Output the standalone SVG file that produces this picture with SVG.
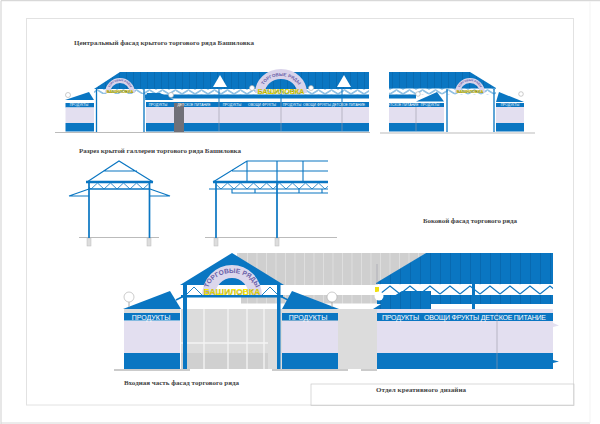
<svg xmlns="http://www.w3.org/2000/svg" width="600" height="424" viewBox="0 0 600 424">
<style>
.b{fill:#0a76c2}.l{fill:#e3dff0}.w{fill:#fff}.g{fill:#c9c9c9}.lt{fill:#dcdcdc}
.gnd{stroke:#bbb;fill:none}.div{stroke:#9a9aa8;stroke-width:.6;fill:none}
.s{stroke:#0a76c2;fill:none}
.lamp{fill:#fff;stroke:#aaa;stroke-width:.6}
.cap{font-family:"Liberation Serif",serif;font-size:7px;font-weight:bold;fill:#444}
.sm{font-family:"Liberation Sans",sans-serif;font-size:3.400px;fill:#fff;text-anchor:middle}
.big{font-family:"Liberation Sans",sans-serif;font-size:7px;fill:#fff;text-anchor:middle}
.arc{font-family:"Liberation Sans",sans-serif;font-weight:bold;fill:#6a5fa8;text-anchor:middle}
.ye{font-family:"Liberation Sans",sans-serif;font-weight:bold;fill:#ffee00;stroke:#5a5a20;stroke-width:.2;text-anchor:middle}
</style>
<defs>
<pattern id="rs" patternUnits="userSpaceOnUse" width="7" height="10"><rect width="7" height="10" fill="#0a76c2"/><path d="M.5 0V10" stroke="#0766ab" stroke-width=".7"/></pattern>
<pattern id="rb" patternUnits="userSpaceOnUse" width="10" height="10"><rect width="10" height="10" fill="#0a76c2"/><path d="M.5 0V10" stroke="#0766ab" stroke-width=".8"/></pattern>
<pattern id="gs" patternUnits="userSpaceOnUse" width="9.500" height="10"><rect width="9.500" height="10" fill="#cfcfcf"/><path d="M.5 0V10" stroke="#dedede" stroke-width="1"/></pattern>
<pattern id="z1" patternUnits="userSpaceOnUse" x="0" y="89.500" width="13" height="5"><rect width="13" height="5" fill="#fff"/><path d="M0 4.500L6.500 .5L13 4.500" stroke="#0a76c2" stroke-width=".9" fill="none"/></pattern>
<pattern id="z2" patternUnits="userSpaceOnUse" x="0" y="183" width="13" height="6"><path d="M0 6L6.500 0L13 6" stroke="#0a76c2" stroke-width=".8" fill="none"/></pattern>
<pattern id="z3" patternUnits="userSpaceOnUse" x="380" y="285" width="20" height="10"><rect width="20" height="10" fill="#fff"/><path d="M0 9L10 1L20 9" stroke="#0a76c2" stroke-width="1.100" fill="none"/></pattern>
<path id="a1" d="M262 91A19 15 0 0 1 300 91"/>
<path id="a2" d="M109 91A11 10 0 0 1 131 91"/>
<path id="a3" d="M459 91A11 10 0 0 1 481 91"/>
<path id="a4" d="M208 291A24 18 0 0 1 256 291"/>
</defs>

<g id="frames" fill="none">
<path d="M1 424V.7H600" stroke="#cfcfcf"/>
<path d="M1 423H590" stroke="#d8d8d8"/>
<path d="M590 1V423" stroke="#f3f3f3"/>
<rect x="26.500" y="18.500" width="547" height="386.500" stroke="#e2e2e2"/>
<rect x="311" y="384" width="263" height="21.500" stroke="#c8c8c8" stroke-width=".7"/>
</g>

<g id="captions">
<text class="cap" x="74" y="45" textLength="180" lengthAdjust="spacing">Центральный фасад  крытого  торгового ряда  Башиловка</text>
<text class="cap" x="79" y="153" textLength="162" lengthAdjust="spacing">Разрез крытой галлереи торгового ряда  Башиловка</text>
<text class="cap" x="423" y="223" textLength="94" lengthAdjust="spacing">Боковой фасад торгового ряда</text>
<text class="cap" x="124" y="385" textLength="115" lengthAdjust="spacing">Входная часть фасад торгового ряда</text>
<text class="cap" x="376" y="392" textLength="90" lengthAdjust="spacing">Отдел креативного дизайна</text>
</g>

<g id="facade-center">
<path class="gnd" d="M55 132.500H370" stroke-width="1.200"/>
<path d="M94 89L120 72H369V89Z" fill="url(#rs)"/>
<rect x="94" y="89" width="275" height="5.500" fill="url(#z1)"/>
<rect class="b" x="145" y="94.500" width="224" height="4"/>
<rect class="b" x="146" y="102" width="223" height="5"/>
<rect class="l" x="146" y="107" width="223" height="16"/>
<rect class="b" x="146" y="123" width="223" height="8.500"/>
<path class="div" d="M219 102V131M281 102V131M342 102V131"/>
<path class="s" stroke-width="1" d="M219 89V102M281 89V102M342 89V102"/>
<rect x="174" y="103" width="10" height="29" fill="#707078"/>
<rect class="w" x="97" y="94" width="46" height="38"/>
<path class="s" stroke-width="1.300" d="M96.500 89V132M144 89V132"/>
<path class="b" d="M65 100L89 92L94 100Z"/>
<rect class="b" x="65.500" y="103" width="28.500" height="4.500"/>
<rect class="l" x="65.500" y="107.500" width="28.500" height="15.500"/>
<rect class="b" x="65.500" y="123" width="28.500" height="8.500"/>
<path class="b" d="M145 100L147 93H160L174 100Z"/>
<circle class="lamp" cx="68" cy="95" r="2.500"/><circle class="lamp" cx="171" cy="95" r="2.500"/>
<circle class="lamp" cx="252" cy="88" r="2.500"/><circle class="lamp" cx="311" cy="88" r="2.500"/>
<path class="w" d="M213 87L220 75L227 87Z"/><path class="w" d="M337 87L344 75L351 87Z"/>
<path d="M255 93A26 24 0 0 1 307 93H297A16 14 0 0 0 265 93Z" fill="#d9d3ea"/>
<path d="M105 93A15 15 0 0 1 135 93H130A10 10 0 0 0 110 93Z" fill="#d9d3ea"/>
<text class="arc" font-size="4.500"><textPath href="#a1" startOffset="50%">ТОРГОВЫЕ РЯДЫ</textPath></text>
<text class="arc" font-size="2.800"><textPath href="#a2" startOffset="50%">ТОРГОВЫЕ РЯДЫ</textPath></text>
<text class="ye" x="281" y="93.500" font-size="7">БАШИЛОВКА</text>
<text class="ye" x="120" y="93" font-size="4">БАШИЛОВКА</text>
<text class="sm" x="79" y="106.300">ПРОДУКТЫ</text><text class="sm" x="158" y="106.300">ПРОДУКТЫ</text>
<text class="sm" x="194" y="106.300" font-size="3">ДЕТСКОЕ ПИТАНИЕ</text><text class="sm" x="232" y="106.300">ПРОДУКТЫ</text>
<text class="sm" x="262" y="106.300">ОВОЩИ ФРУКТЫ</text><text class="sm" x="292" y="106.300">ПРОДУКТЫ</text>
<text class="sm" x="334" y="106.300" font-size="3">ОВОЩИ ФРУКТЫ ДЕТСКОЕ ПИТАНИЕ</text>
</g>

<g id="facade-right">
<path class="gnd" d="M380 133H535" stroke-width="1.200"/>
<path d="M389 72H470L496 88V89H389Z" fill="url(#rs)"/>
<rect x="389" y="88.500" width="107" height="6" fill="url(#z1)"/>
<rect class="b" x="389" y="94.500" width="27" height="4"/>
<rect class="b" x="389" y="103" width="27" height="4"/>
<rect class="l" x="389" y="107" width="27" height="16"/>
<rect class="b" x="389" y="123" width="27" height="8.500"/>
<rect class="w" x="448" y="95" width="45" height="37"/>
<path class="s" stroke-width="1.300" d="M447 89V132M494 89V132"/>
<path class="b" d="M416 101.500L437 92L444 101.500Z"/>
<rect class="b" x="416" y="103" width="28" height="4"/>
<rect class="l" x="416" y="107" width="28" height="16"/>
<rect class="b" x="416" y="123" width="28" height="8.500"/>
<path class="b" d="M496 102L499 92L524 102Z"/>
<rect class="b" x="496" y="103" width="28" height="4"/>
<rect class="l" x="496" y="107" width="28" height="16"/>
<rect class="b" x="496" y="123" width="28" height="8.500"/>
<path class="div" d="M416 107V131"/>
<circle class="lamp" cx="418" cy="94" r="2.300"/><circle class="lamp" cx="521" cy="94" r="2.300"/>
<path d="M455 93A15 15 0 0 1 485 93H480A10 10 0 0 0 460 93Z" fill="#d9d3ea"/>
<text class="arc" font-size="2.800"><textPath href="#a3" startOffset="50%">ТОРГОВЫЕ РЯДЫ</textPath></text>
<text class="ye" x="470" y="93" font-size="4">БАШИЛОВКА</text>
<text class="sm" x="402" y="106" font-size="2.700">ДЕТСКОЕ ПИТАНИЕ</text>
<text class="sm" x="430" y="106">ПРОДУКТЫ</text><text class="sm" x="510" y="106">ПРОДУКТЫ</text>
</g>

<g id="section-left">
<path class="gnd" d="M79 237.500H159"/>
<rect x="87" y="238" width="4" height="8" fill="#ddd" stroke="#bbb" stroke-width=".5"/>
<rect x="147" y="238" width="4" height="8" fill="#ddd" stroke="#bbb" stroke-width=".5"/>
<rect x="89" y="183" width="60" height="6" fill="url(#z2)"/>
<path class="s" stroke-width="1.100" d="M87 182L119 161L153 182M103 171H137"/>
<path class="s" stroke-width="2.500" d="M86 182H153"/>
<path class="s" stroke-width="1.300" d="M89 189H150"/>
<path class="s" stroke-width="1.700" d="M89 182V238M149.500 182V238"/>
<path class="s" stroke-width="1.100" d="M69 196L89 189M69 196H89M150 189L170 196H150"/>
</g>

<g id="section-right">
<path class="gnd" d="M205 237.500H337"/>
<rect x="214" y="238" width="4" height="8" fill="#ddd" stroke="#bbb" stroke-width=".5"/>
<rect x="275" y="238" width="4" height="8" fill="#ddd" stroke="#bbb" stroke-width=".5"/>
<rect x="216" y="183" width="112" height="6" fill="url(#z2)"/>
<path class="s" stroke-width="1.100" d="M213 182L247 161H328M232 171H328M247 161V182M303 161V182M232 189V193H328M255 189V193M299 189V193M322 189V193"/>
<path class="s" stroke-width="2.500" d="M213 182H328"/>
<path class="s" stroke-width="1.200" d="M209 189H328M277 161V182"/>
<path class="s" stroke-width="1.700" d="M216 182V238M277 182V238"/>
</g>

<g id="front-wall">
<path d="M237 253H426L375 285H237Z" fill="url(#gs)"/>
<rect x="241" y="295" width="136" height="8.500" fill="url(#gs)"/>
<rect class="lt" x="181" y="309" width="196" height="60"/>
<rect x="181" y="353" width="87" height="16" fill="#d0d0d0"/>
<path d="M204 309V369M228 309V369M247 309V369M264 309V369M181 343H268" stroke="#f4f4f4" stroke-width="1.300" fill="none"/>
</g>

<g id="wing">
<path d="M376 283L426 253H553V284H376Z" fill="url(#rb)"/>
<rect x="377" y="284.500" width="176" height="10.500" fill="url(#z3)"/>
<rect x="377" y="295" width="176" height="9" fill="url(#rb)"/>
<rect class="b" x="472" y="284" width="3" height="25"/>
<rect x="377" y="309" width="176" height="4" fill="#e3dff0"/>
<rect class="b" x="377" y="313" width="176" height="8"/>
<rect class="l" x="377" y="321" width="176" height="32"/>
<rect class="b" x="377" y="353" width="176" height="16"/>
<path class="div" d="M497 313V369"/>
<path d="M373 309L402 291H431V309Z" fill="url(#rb)"/>
<rect x="375" y="287" width="4" height="5" fill="#f0e010"/>
<circle cx="379" cy="296" r="4.500" fill="#fff"/>
<path class="l" d="M553 323L559 325.500L553 327Z"/>
<path class="b" d="M553 360L559 361.500L553 363Z"/>
<path class="div" d="M377 264V285"/>
<text class="big" x="464" y="319.700" textLength="164" lengthAdjust="spacing" style="white-space:pre">ПРОДУКТЫ   ОВОЩИ ФРУКТЫ ДЕТСКОЕ ПИТАНИЕ</text>
</g>

<g id="front-gable">
<path class="gnd" d="M114 370H190M272 370H348M361 370H377" stroke-width="1.500"/>
<path class="b" d="M180 285L232 253L284 285Z"/>
<rect class="w" x="186" y="286" width="92" height="9"/>
<path class="s" stroke-width=".9" d="M186 295L194 287L202 295M262 295L270 287L278 295"/>
<path class="s" stroke-width="1.500" d="M176 300L186 295M288 300L278 295"/>
<path d="M202 296A30 31 0 0 1 262 296H249A17 18 0 0 0 215 296Z" fill="#dcd7ec"/>
<rect class="b" x="181" y="295" width="102" height="2.500"/>
<rect class="b" x="183" y="285" width="4" height="84"/>
<rect class="b" x="277" y="285" width="3.500" height="84"/>
<text class="arc" font-size="6.600"><textPath href="#a4" startOffset="50%">ТОРГОВЫЕ РЯДЫ</textPath></text>
<text class="ye" x="232" y="295" font-size="8.500">БАШИЛОВКА</text>
</g>

<g id="kiosk-left">
<path class="b" d="M123 309L170 291L181 309Z"/>
<path d="M129 302V307" stroke="#aaa"/>
<circle class="lamp" cx="129" cy="297" r="5"/>
<rect class="lt" x="124" y="309" width="56" height="4"/>
<rect class="b" x="124" y="313" width="56" height="7.500"/>
<rect class="l" x="124" y="321" width="56" height="32"/>
<rect class="b" x="124" y="353" width="56" height="16"/>
<text class="big" x="151" y="319.500">ПРОДУКТЫ</text>
</g>

<g id="kiosk-right">
<path class="b" d="M282 309L292 291L339 309Z"/>
<path d="M332 302V307" stroke="#aaa"/>
<circle class="lamp" cx="332" cy="297" r="5"/>
<rect class="lt" x="282" y="309" width="56" height="4"/>
<rect class="b" x="282" y="313" width="56" height="7.500"/>
<rect class="l" x="282" y="321" width="56" height="32"/>
<rect class="b" x="282" y="353" width="56" height="16"/>
<text class="big" x="308" y="319.500">ПРОДУКТЫ</text>
</g>
</svg>
